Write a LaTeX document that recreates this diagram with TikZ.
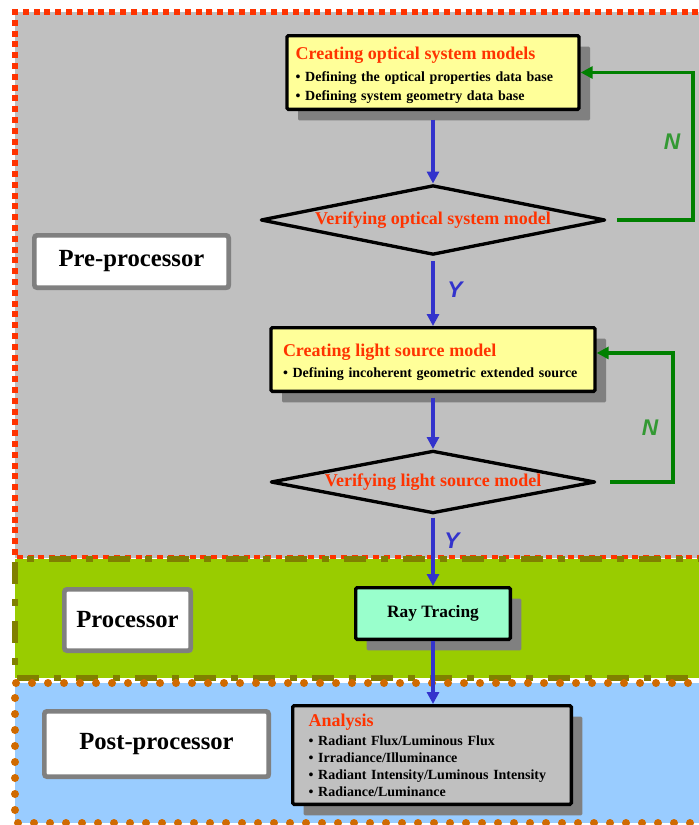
\documentclass[tikz,border=0pt]{standalone}
\usepackage{fontspec}
\setmainfont{Liberation Serif}
\newfontfamily\yesnofont{Liberation Sans}
\usepackage{tikz}
\usetikzlibrary{shapes.geometric,arrows.meta,shadows}

\definecolor{preFill}{HTML}{C0C0C0}
\definecolor{preLine}{HTML}{FF3300}
\definecolor{procFill}{HTML}{99CC00}
\definecolor{procLine}{HTML}{808000}
\definecolor{postFill}{HTML}{99CCFF}
\definecolor{postLine}{HTML}{D06A00}
\definecolor{modelYellow}{HTML}{FFFF99}
\definecolor{traceMint}{HTML}{99FFCC}
\definecolor{shadowGray}{HTML}{808080}
\definecolor{titleRed}{HTML}{FF3300}
\definecolor{flowBlue}{HTML}{3333CC}
\definecolor{loopGreen}{HTML}{008000}
\definecolor{noGreen}{HTML}{339933}

\newcommand\headsize{\fontsize{13.5}{16}\selectfont}

\tikzset{
    preborder/.style={preLine, line width=4.5pt, dash pattern=on 4.5pt off 3.6pt},
    procborder/.style={procLine, line width=4.5pt, dash pattern=on 16.5pt off 11.25pt on 5.25pt off 11.25pt},
    postborder/.style={postLine, line width=6pt, line cap=round, dash pattern=on 0pt off 12pt},
    stagelabel/.style={draw=shadowGray, fill=white, line width=3.5pt, rounded corners=2pt,
        font=\fontsize{18.5}{22}\selectfont\bfseries,
        drop shadow={shadow xshift=1.5pt, shadow yshift=-1.5pt, fill=black!45, opacity=1}},
    modelbox/.style={draw=black, line width=2.5pt, rounded corners=1pt, align=left,
        font=\fontsize{10.5}{14.25}\selectfont\bfseries,
        drop shadow={shadow xshift=8.25pt, shadow yshift=-8.25pt, fill=shadowGray, opacity=1}},
    checkbox/.style={draw=black, diamond, line width=2.5pt, line join=round, inner sep=0pt,
        text=titleRed, font=\headsize\bfseries},
    flow/.style={flowBlue, line width=3.2pt, -{Triangle[length=9pt, width=9pt]}},
    loopback/.style={loopGreen, line width=2.6pt, -{Triangle[length=9pt, width=9pt]}},
    answer/.style={font=\yesnofont\fontsize{17}{20}\selectfont\bfseries\itshape}
}

\begin{document}
\begin{tikzpicture}[x=0.75pt, y=-0.75pt]
    \useasboundingbox (0,0) rectangle (699,825);

    % Stage regions
    \fill[preFill] (15,12) rectangle (720,558);
    \draw[preborder] (720,12) -- (15,12) -- (15,558) -- (720,558);
    \fill[procFill] (15,559) rectangle (720,678);
    \draw[procborder] (720,559) -- (15,559) -- (15,678) -- (720,678);
    \fill[postFill] (15,683) rectangle (720,823);
    \draw[postborder] (720,683) -- (15,683) -- (15,823) -- (720,823);

    % Stage labels
    \node[stagelabel, minimum width=145.75pt, minimum height=39.25pt] (prelabel) at (131.5,261.5) {Pre-processor};
    \node[stagelabel, minimum width=94.75pt, minimum height=46pt] (proclabel) at (127.5,620) {Processor};
    \node[stagelabel, minimum width=168.25pt, minimum height=49pt] (postlabel) at (156.5,744) {Post-processor};

    % Pre-processor steps
    \node[modelbox, fill=modelYellow, text width=206pt, inner xsep=6.5pt, minimum height=55.25pt] (optbox) at (433,72.5)
        {\rule{0pt}{14pt}{\headsize\color{titleRed}Creating optical system models}\\[2.3pt]
         \textbullet\ Defining the optical properties data base\\
         \textbullet\ Defining system geometry data base};
    \node[checkbox, aspect=4.95, minimum width=258.5pt, minimum height=52.25pt] (optcheck) at (433,220) {Verifying optical system model};

    \node[modelbox, fill=modelYellow, text width=225pt, inner xsep=9pt, minimum height=47.75pt] (srcbox) at (433,359.5)
        {\rule{0pt}{13pt}{\headsize\color{titleRed}Creating light source model}\\[1.5pt]
         \textbullet\ Defining incoherent geometric extended source};
    \node[checkbox, aspect=5.18, minimum width=243.5pt, minimum height=47pt] (srccheck) at (433,482) {Verifying light source model};

    % Processor step
    \node[modelbox, fill=traceMint, align=center, font=\fontsize{13}{16}\selectfont\bfseries,
          minimum width=116pt, minimum height=38.75pt] (trace) at (433,613.5) {Ray Tracing};

    % Post-processor step
    \node[modelbox, fill=preFill, text width=185pt, inner xsep=12pt, minimum height=74pt,
          font=\fontsize{10.5}{12.75}\selectfont\bfseries] (analysis) at (432,755)
        {{\headsize\color{titleRed}Analysis}\\[1.5pt]
         \textbullet\ Radiant Flux/Luminous Flux\\
         \textbullet\ Irradiance/Illuminance\\
         \textbullet\ Radiant Intensity/Luminous Intensity\\
         \textbullet\ Radiance/Luminance};

    % Answers
    \node[answer, text=noGreen] (optno) at (672,142) {N};
    \node[answer, text=flowBlue] (optyes) at (455,290) {Y};
    \node[answer, text=noGreen] (srcno) at (650,428) {N};
    \node[answer, text=flowBlue] (srcyes) at (452,541) {Y};

    % Flow
    \draw[flow] ([yshift=-6.5pt]optbox.south) -- (optcheck.north);
    \draw[flow] ([yshift=-3.5pt]optcheck.south) -- (srcbox.north);
    \draw[flow] ([yshift=-3.5pt]srcbox.south) -- (srccheck.north);
    \draw[flow] ([yshift=-2pt]srccheck.south) -- (trace.north);
    \draw[flow] (trace.south) -- (trace.south |- analysis.north);

    % Loops back
    \draw[loopback] ([xshift=7.5pt]optcheck.east) -- ++(76,0) |- (optbox.east);
    \draw[loopback] ([xshift=9.75pt]srccheck.east) -- ++(63,0) |- ([yshift=4.9pt]srcbox.east);
\end{tikzpicture}
\end{document}
